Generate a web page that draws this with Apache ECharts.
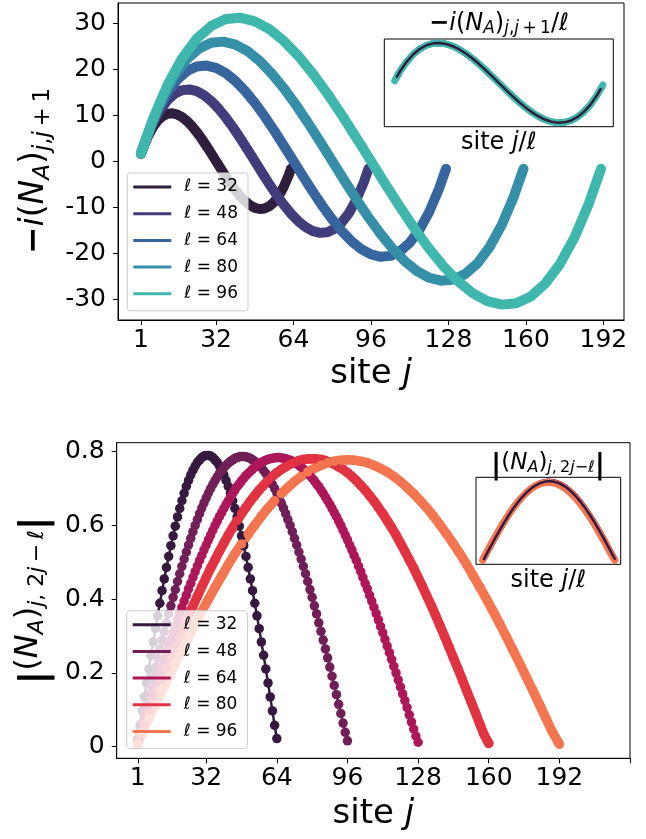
<!DOCTYPE html>
<html>
<head>
<meta charset="utf-8">
<script src="https://cdn.jsdelivr.net/npm/echarts@6/dist/echarts.min.js"></script>
<style>html,body{margin:0;padding:0;background:#fff}#c{width:646px;height:839px}</style>
</head>
<body>
<div id="c"></div>
<script>
const F = 'DejaVu Sans';
const ells = [32, 48, 64, 80, 96];
const topColors = ['#2e1e3b', '#413d7b', '#37659e', '#348fa7', '#40b7ad'];
const botColors = ['#35193e', '#701f57', '#ad1759', '#e13342', '#f37651'];
const xTickLabels = [1, 32, 64, 96, 128, 160, 192];
const xTicksBottom = [1, 32, 64, 96, 128, 160, 192, 224];
const yTicksTop = [-30, -20, -10, 0, 10, 20, 30];
const yTicksBottom = [0, 0.2, 0.4, 0.6, 0.8];

function seq(a, step, b) { const r = []; for (let v = a; v <= b; v += step) r.push(v); return r; }

// sites j used for the top panel (sampled) and bottom panel
const topSites32 = [1, ...seq(2, 2, 62), 63];
const topSites48 = [1, ...seq(3, 3, 93), 95];
const topSites64 = [1, ...seq(4, 4, 124), 127];
const topSites80 = [1, ...seq(5, 5, 155), 159];
const topSites96 = [1, ...seq(6, 6, 186), 191];

const botSites32 = seq(1, 1, 64);
const botSites48 = seq(1, 1, 96);
const botSites64 = seq(1, 1, 128);
const botSites80 = [1, ...seq(2, 2, 160)];
const botSites96 = [1, ...seq(3, 3, 192)];

// -i (N_A)_{j,j+1}
const top32 = [1.6, 3.07, 5.54, 7.46, 8.86, 9.79, 10.29, 10.39, 10.13, 9.55, 8.70, 7.62, 6.33, 4.89, 3.32, 1.68, 0, -1.68, -3.32, -4.89, -6.33, -7.62, -8.70, -9.55, -10.13, -10.39, -10.29, -9.79, -8.86, -7.46, -5.54, -3.07, -1.6];
const top48 = [1.6, 4.60, 8.31, 11.19, 13.29, 14.69, 15.43, 15.58, 15.19, 14.33, 13.06, 11.42, 9.49, 7.33, 4.98, 2.52, 0, -2.52, -4.98, -7.33, -9.49, -11.42, -13.06, -14.33, -15.19, -15.58, -15.43, -14.69, -13.29, -11.19, -8.31, -4.60, -1.6];
const top64 = [1.65, 6.13, 11.08, 14.92, 17.72, 19.58, 20.57, 20.77, 20.26, 19.11, 17.41, 15.23, 12.66, 9.77, 6.65, 3.36, 0, -3.36, -6.65, -9.77, -12.66, -15.23, -17.41, -19.11, -20.26, -20.77, -20.57, -19.58, -17.72, -14.92, -11.08, -6.13, -1.65];
const top80 = [1.65, 7.67, 13.85, 18.64, 22.16, 24.48, 25.72, 25.96, 25.32, 23.89, 21.76, 19.04, 15.82, 12.22, 8.31, 4.20, 0, -4.20, -8.31, -12.22, -15.82, -19.04, -21.76, -23.89, -25.32, -25.96, -25.72, -24.48, -22.16, -18.64, -13.85, -7.67, -1.65];
const top96 = [1.66, 9.20, 16.62, 22.37, 26.59, 29.38, 30.86, 31.16, 30.38, 28.66, 26.11, 22.85, 18.99, 14.66, 9.97, 5.04, 0, -5.04, -9.97, -14.66, -18.99, -22.85, -26.11, -28.66, -30.38, -31.16, -30.86, -29.38, -26.59, -22.37, -16.62, -9.20, -1.66];

// |(N_A)_{j,2j-l}|
const bot32 = [0.019,0.058,0.097,0.135,0.173,0.211,0.248,0.284,0.320,0.355,0.389,0.423,0.455,0.486,0.516,0.545,0.572,0.598,0.623,0.646,0.667,0.687,0.706,0.722,0.737,0.750,0.761,0.771,0.778,0.784,0.788,0.790,
0.790,0.788,0.784,0.778,0.771,0.761,0.750,0.737,0.722,0.706,0.687,0.667,0.646,0.623,0.598,0.572,0.545,0.516,0.486,0.455,0.423,0.389,0.355,0.320,0.284,0.248,0.211,0.173,0.135,0.097,0.058,0.022];
const bot48 = [0.013,0.039,0.064,0.090,0.115,0.141,0.166,0.191,0.216,0.241,0.265,0.289,0.313,0.336,0.360,0.382,0.405,0.426,0.448,0.469,0.489,0.509,0.528,0.547,0.565,0.583,0.600,0.616,0.632,0.647,0.661,0.675,0.688,0.700,0.711,0.722,0.732,0.741,0.749,0.757,0.763,0.769,0.774,0.778,0.782,0.784,0.786,0.787,
0.787,0.786,0.784,0.782,0.778,0.774,0.769,0.763,0.757,0.749,0.741,0.732,0.722,0.711,0.700,0.688,0.675,0.661,0.647,0.632,0.616,0.600,0.583,0.565,0.547,0.528,0.509,0.489,0.469,0.448,0.426,0.405,0.382,0.360,0.336,0.313,0.289,0.265,0.241,0.216,0.191,0.166,0.141,0.115,0.090,0.064,0.039,0.016];
const bot64 = [0.010,0.029,0.048,0.067,0.086,0.106,0.125,0.143,0.162,0.181,0.200,0.218,0.237,0.255,0.273,0.291,0.309,0.326,0.344,0.361,0.378,0.395,0.411,0.428,0.443,0.459,0.475,0.490,0.505,0.519,0.534,0.547,0.561,0.574,0.587,0.600,0.612,0.624,0.635,0.646,0.657,0.667,0.677,0.687,0.696,0.705,0.713,0.721,0.728,0.735,0.741,0.747,0.753,0.758,0.763,0.767,0.771,0.774,0.777,0.779,0.781,0.782,0.783,0.784,
0.784,0.783,0.782,0.781,0.779,0.777,0.774,0.771,0.767,0.763,0.758,0.753,0.747,0.741,0.735,0.728,0.721,0.713,0.705,0.696,0.687,0.677,0.667,0.657,0.646,0.635,0.624,0.612,0.600,0.587,0.574,0.561,0.547,0.534,0.519,0.505,0.490,0.475,0.459,0.443,0.428,0.411,0.395,0.378,0.361,0.344,0.326,0.309,0.291,0.273,0.255,0.237,0.218,0.200,0.181,0.162,0.143,0.125,0.106,0.086,0.067,0.048,0.029,0.012];
const bot80 = [0.008,0.031,0.061,0.092,0.122,0.152,0.182,0.212,0.241,0.270,0.299,0.327,0.355,0.382,0.408,0.434,0.459,0.484,0.507,0.530,0.552,0.574,0.594,0.613,0.632,0.649,0.666,0.681,0.696,0.709,0.722,0.733,0.743,0.752,0.759,0.766,0.771,0.776,0.779,0.780,0.781,
0.780,0.779,0.776,0.771,0.766,0.759,0.752,0.743,0.733,0.722,0.709,0.696,0.681,0.666,0.649,0.632,0.613,0.594,0.574,0.552,0.530,0.507,0.484,0.459,0.434,0.408,0.382,0.355,0.327,0.299,0.270,0.241,0.212,0.182,0.152,0.122,0.092,0.061,0.031,0.009];
const bot96 = [0.007,0.038,0.076,0.114,0.152,0.189,0.226,0.262,0.298,0.333,0.367,0.400,0.432,0.463,0.494,0.523,0.550,0.576,0.601,0.625,0.647,0.667,0.686,0.703,0.719,0.733,0.745,0.755,0.763,0.770,0.774,0.777,0.778,
0.777,0.774,0.770,0.763,0.755,0.745,0.733,0.719,0.703,0.686,0.667,0.647,0.625,0.601,0.576,0.550,0.523,0.494,0.463,0.432,0.400,0.367,0.333,0.298,0.262,0.226,0.189,0.152,0.114,0.076,0.038,0.007];

const topSites = [topSites32, topSites48, topSites64, topSites80, topSites96];
const topVals = [top32, top48, top64, top80, top96];
const botSites = [botSites32, botSites48, botSites64, botSites80, botSites96];
const botVals = [bot32, bot48, bot64, bot80, bot96];

const zip = (xs, ys) => xs.map((x, k) => [x, ys[k]]);

const base = (sz) => ({ fontFamily: F, fontSize: sz, color: '#000' });
function mathRich(b, s, shift, barSz, barShift) {
  return {
    b: base(b),
    bi: Object.assign(base(b), { fontStyle: 'italic' }),
    bb: Object.assign(base(b), { fontWeight: 'bold' }),
    s: Object.assign(base(s), { padding: [shift, 0, 0, 0] }),
    si: Object.assign(base(s), { fontStyle: 'italic', padding: [shift, 0, 0, 0] }),
    bar: Object.assign(base(barSz), { fontWeight: 'bold', padding: [barShift, 0, 0, 0] })
  };
}
function zrRich(r) {
  const o = {};
  for (const k in r) { const v = Object.assign({}, r[k]); v.fill = v.color; delete v.color; o[k] = v; }
  return o;
}

const topYName = '{bb|\u2212}{bi|i}{b|(}{bi|N}{si|A}{b|)}{si|j}{s|,}{si|j}{s|\u2009+\u20091}';
const botYName = '{bar|\u007c}{b|(}{bi|N}{si|A}{b|)}{si|j}{s|, 2}{si|j}{s|\u2009\u2212\u2009}{si|\u2113}{bar|\u007c}';
const insetTopTitle = '{bb|\u2212}{bi|i}{b|(}{bi|N}{si|A}{b|)}{si|j}{s|,}{si|j}{s|\u2009+\u20091}{b|/}{bi|\u2113}';
const insetBotTitle = '{bar|\u007c}{b|(}{bi|N}{si|A}{b|)}{si|j}{s|,\u20092}{si|j}{s|\u2212}{si|\u2113}{bar|\u007c}';

const siteName = { fontFamily: F, fontSize: 34, color: '#000', rich: { ij: { fontFamily: F, fontSize: 34, fontStyle: 'italic', color: '#000' } } };
const siteNameSmall = { fontFamily: F, fontSize: 24, color: '#000', rich: { ij: { fontFamily: F, fontSize: 24, fontStyle: 'italic', color: '#000' } } };

const tickStyle = (vals) => ({ show: true, inside: false, customValues: vals, length: 5, lineStyle: { color: '#000', width: 1 } });
const lineStyleAx = { show: true, onZero: false, lineStyle: { color: '#000', width: 1 } };

function mainX(grid, min, max, ticks, gap) {
  return {
    gridIndex: grid, type: 'value', min: min, max: max, position: 'bottom',
    axisLine: lineStyleAx, splitLine: { show: false },
    axisTick: tickStyle(ticks),
    axisLabel: { customValues: xTickLabels, fontFamily: F, fontSize: 25, color: '#000', margin: 8 },
    name: 'site {ij|j}', nameLocation: 'middle', nameGap: gap, nameTextStyle: siteName
  };
}
function insetX(grid) {
  return {
    gridIndex: grid, type: 'value', min: -0.0885, max: 2.0886,
    axisLine: { show: false }, axisTick: { show: false }, axisLabel: { show: false }, splitLine: { show: false },
    name: 'site {ij|j}/\u2113', nameLocation: 'middle', nameGap: 4, nameTextStyle: siteNameSmall
  };
}
function insetY(grid, min, max) {
  return {
    gridIndex: grid, type: 'value', min: min, max: max,
    axisLine: { show: false }, axisTick: { show: false }, axisLabel: { show: false }, splitLine: { show: false }
  };
}

const series = [];
ells.forEach((l, i) => {
  series.push({
    type: 'line', name: 't' + l, xAxisIndex: 0, yAxisIndex: 0,
    data: zip(topSites[i], topVals[i]), symbol: 'none', color: topColors[i],
    lineStyle: { width: 10, color: topColors[i], cap: 'round', join: 'round' },
    itemStyle: { color: topColors[i] }, animation: false, silent: true
  });
});
[1, 2, 3, 4, 0].forEach((i) => {
  const l = ells[i];
  series.push({
    type: 'line', name: 'it' + l, xAxisIndex: 1, yAxisIndex: 1,
    data: topSites[i].map((j, k) => [j / l, topVals[i][k] / l]), symbol: 'none',
    lineStyle: { width: i === 0 ? 2.5 : (i === 4 ? 7 : 6), color: topColors[i], cap: 'round', join: 'round' },
    itemStyle: { color: topColors[i] }, animation: false, silent: true
  });
});
ells.forEach((l, i) => {
  const dense = i < 3;
  series.push({
    type: 'line', name: 'b' + l, xAxisIndex: 2, yAxisIndex: 2,
    data: zip(botSites[i], botVals[i]), symbol: 'circle', symbolSize: 9.5, color: botColors[i],
    lineStyle: { width: dense ? 2.5 : 9.5, color: botColors[i], cap: 'round', join: 'round' },
    itemStyle: { color: botColors[i] }, animation: false, silent: true
  });
});
[1, 2, 3, 4, 0].forEach((i) => {
  const l = ells[i];
  series.push({
    type: 'line', name: 'ib' + l, xAxisIndex: 3, yAxisIndex: 3,
    data: botSites[i].map((j, k) => [j / l, botVals[i][k]]), symbol: 'none',
    lineStyle: { width: i === 0 ? 2.5 : (i === 4 ? 7 : 6), color: botColors[i], cap: 'round', join: 'round' },
    itemStyle: { color: botColors[i] }, animation: false, silent: true
  });
});

function legend(prefix, left, top) {
  return {
    data: ells.map(l => prefix + l), orient: 'vertical', left: left, top: top,
    itemWidth: 38, itemHeight: 3, itemGap: 6.7, icon: 'rect',
    padding: [4, 10, 7, 6], backgroundColor: 'rgba(255,255,255,0.8)',
    borderColor: '#cccccc', borderWidth: 1, borderRadius: 3,
    selectedMode: false, z: 10,
    formatter: n => '\u2113 = ' + n.slice(1),
    textStyle: { fontFamily: F, fontSize: 17, color: '#000', lineHeight: 20, padding: [0, 0, 0, 8] }
  };
}

const option = {
  animation: false,
  textStyle: { fontFamily: F },
  grid: [
    { left: 118, top: 3, width: 506, height: 317, show: true, borderColor: '#000', borderWidth: 1, backgroundColor: 'transparent' },
    { left: 384.3, top: 39, width: 229, height: 87.7, show: true, borderColor: '#000', borderWidth: 1, backgroundColor: '#fff' },
    { left: 116.7, top: 442.7, width: 513.3, height: 315.6, show: true, borderColor: '#000', borderWidth: 1, backgroundColor: 'transparent' },
    { left: 476, top: 477.3, width: 144.7, height: 87, show: true, borderColor: '#000', borderWidth: 1, backgroundColor: '#fff' }
  ],
  xAxis: [
    mainX(0, -8.5, 200.5, xTickLabels, 37),
    insetX(1),
    mainX(2, -8.55, 224, xTicksBottom, 39),
    insetX(3)
  ],
  yAxis: [
    {
      gridIndex: 0, type: 'value', min: -34.5, max: 34.35, position: 'left',
      axisLine: lineStyleAx, splitLine: { show: false },
      axisTick: tickStyle(yTicksTop),
      axisLabel: { customValues: yTicksTop, fontFamily: F, fontSize: 25, color: '#000', margin: 12 },
      name: topYName, nameLocation: 'middle', nameGap: 62,
      nameTextStyle: { rich: mathRich(33, 23, 16, 38, 12), padding: [0, 19, 0, 0] }
    },
    insetY(1, -0.357, 0.357),
    {
      gridIndex: 2, type: 'value', min: -0.0315, max: 0.8244, position: 'left',
      axisLine: lineStyleAx, splitLine: { show: false },
      axisTick: tickStyle(yTicksBottom),
      axisLabel: { customValues: yTicksBottom, fontFamily: F, fontSize: 25, color: '#000', margin: 12, formatter: v => String(+(+v).toFixed(2)) },
      name: botYName, nameLocation: 'middle', nameGap: 62,
      nameTextStyle: { rich: mathRich(32, 22, 16, 38, 12) }
    },
    insetY(3, -0.033, 0.829)
  ],
  legend: [legend('t', 127.3, 173), legend('b', 126.7, 610.7)],
  graphic: [
    { type: 'text', x: 499, y: 24, z: 20, style: { text: insetTopTitle, align: 'center', verticalAlign: 'middle', rich: zrRich(mathRich(24, 17, 10, 28, 8)) } },
    { type: 'text', x: 548, y: 463, z: 20, style: { text: insetBotTitle, align: 'center', verticalAlign: 'middle', rich: zrRich(mathRich(23, 16, 10, 28, 8)) } }
  ],
  series: series
};

const chart = echarts.init(document.getElementById('c'), null, { renderer: 'canvas' });
chart.setOption(option);
</script>
</body>
</html>
